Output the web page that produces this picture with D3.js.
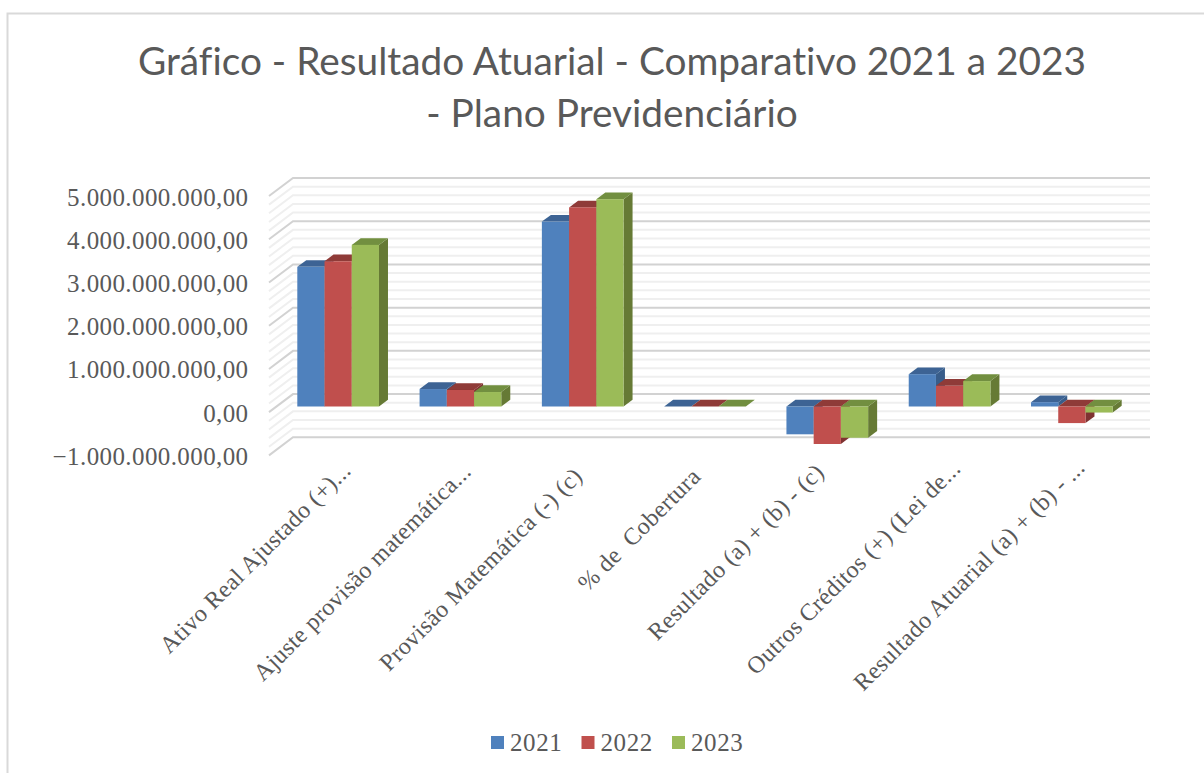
<!DOCTYPE html>
<html><head><meta charset="utf-8">
<script src="https://cdn.jsdelivr.net/npm/d3@7"></script>
<style>html,body{margin:0;padding:0;background:#fff}svg{display:block}text{white-space:pre}</style>
</head><body><svg id="c" width="1204" height="773"></svg>
<script>
const categories = ["Ativo Real Ajustado (+)...","Ajuste provisão matemática...","Provisão Matemática (-) (c)","% de  Cobertura","Resultado (a) + (b) - (c)","Outros Créditos (+) (Lei de...","Resultado Atuarial (a) + (b) - ..."];
const seriesNames = ["2021","2022","2023"];
const v2021 = [3240000000,405000000,4290000000,0,-645000000,750000000,100000000];
const v2022 = [3370000000,383000000,4620000000,0,-870000000,480000000,-385000000];
const v2023 = [3750000000,336000000,4810000000,0,-725000000,590000000,-140000000];
const seriesValues = [v2021,v2022,v2023];
const titleLines = ["Gráfico - Resultado Atuarial - Comparativo 2021 a 2023","- Plano Previdenciário"];
const front = ["#4F81BD","#C0504D","#9BBB59"], top_ = ["#3C6494","#8F3A37","#728F3F"], side = ["#375D8A","#7F3331","#667A36"];

const svg = d3.select("#c");
const serif = "'Liberation Serif',serif", ink = "#595959";
svg.append("defs").append("filter").attr("id","soft").append("feGaussianBlur").attr("stdDeviation",0.45);
// frame
svg.append("path").attr("d","M7.5,773V13.5H1204").attr("fill","none").attr("stroke","#d9d9d9").attr("stroke-width",2);
// title
svg.append("g").selectAll("text").data(titleLines).join("text")
  .attr("x",612).attr("y",(d,i)=>75+i*52).attr("text-anchor","middle").style("font-variant-ligatures","none")
  .attr("font-family","Lato,sans-serif").attr("font-size",38.8).attr("fill",ink).text(d=>d);

const domain=[-1e9,5e9];
const yBack = d3.scaleLinear().domain(domain).range([437.3,178]);
const yWall = d3.scaleLinear().domain(domain).range([455.4,196]);
const yBar  = d3.scaleLinear().domain(domain).range([449.6,191]);
const xBack = d3.scaleLinear().domain([0,1]).range([293,1150]);
const xWall = d3.scaleLinear().domain([0,1]).range([269,1126]);
const x0 = d3.scaleBand().domain(categories).range([277,1133]).paddingInner(0.332).paddingOuter(0.166);
const x1 = d3.scaleBand().domain(seriesNames).range([0,x0.bandwidth()]);
const dx=9, dy=6.7;

const grid = svg.append("g").attr("filter","url(#soft)");
const minor = yBack.ticks(30), major = yBack.ticks(6).map(Number);
minor.filter(t=>!major.includes(t)).concat(major).forEach(t=>{
  const m = major.includes(t);
  grid.append("path").attr("fill","none")
    .attr("d",`M${xWall(0)},${yWall(t)}L${xBack(0)},${yBack(t)}H${xBack(1)}`)
    .attr("stroke",m?"#d2d2d2":"#efefef").attr("stroke-width",2);
});

const bars = svg.append("g").attr("filter","url(#soft)");
categories.forEach((c,ci)=>{
  seriesNames.forEach((s,si)=>{
    const v=seriesValues[si][ci], l=x0(c)+x1(s), r=l+x1.bandwidth();
    const yT=yBar(Math.max(v,0)), yB=yBar(Math.min(v,0));
    bars.append("path").attr("fill",side[si]).attr("d",`M${r},${yT}L${r+dx},${yT-dy}V${yB-dy}L${r},${yB}Z`);
    bars.append("path").attr("fill",top_[si]).attr("d",`M${l},${yT}L${l+dx},${yT-dy}H${r+dx}L${r},${yT}Z`);
    bars.append("rect").attr("fill",front[si]).attr("x",l).attr("y",yT).attr("width",r-l).attr("height",yB-yT);
  });
});

// value axis
const loc = d3.formatLocale({decimal:",",thousands:".",grouping:[3],currency:["",""]});
const axis = d3.axisLeft(yWall).tickValues(major).tickSize(0).tickPadding(20.5).tickFormat(loc.format(",.2f"));
const ag = svg.append("g").attr("transform",`translate(269,0)`).call(axis);
ag.select(".domain").remove();
ag.selectAll("text").attr("font-family",serif).attr("font-size",25).attr("letter-spacing",0.4).attr("fill",ink).attr("dy","0.36em");

// category labels: layout nudges per label, the source places them unevenly
const nudgeX=[-4,-6,-17,-21,-20,-5.5,-3.5], nudgeY=[-6,-5,-0.5,0,-4.5,-8,-9];
svg.append("g").selectAll("text").data(categories).join("text")
  .attr("text-anchor","end").attr("font-family",serif).attr("font-size",24).attr("letter-spacing",0.35).attr("fill",ink)
  .attr("transform",(c,i)=>`translate(${x0(c)+x0.bandwidth()/2+18+nudgeX[i]},${478+nudgeY[i]}) rotate(-45)`).text(c=>c);

// legend
const legX = d3.scalePoint().domain(seriesNames).range([491,672]);
const lg = svg.append("g").selectAll("g").data(seriesNames).join("g").attr("transform",s=>`translate(${legX(s)},736)`);
lg.append("rect").attr("width",13).attr("height",13).attr("fill",(s,i)=>front[i]);
lg.append("text").attr("x",19).attr("y",15).attr("font-family",serif).attr("font-size",25).attr("letter-spacing",0.6).attr("fill",ink).text(s=>s);
</script></body></html>
